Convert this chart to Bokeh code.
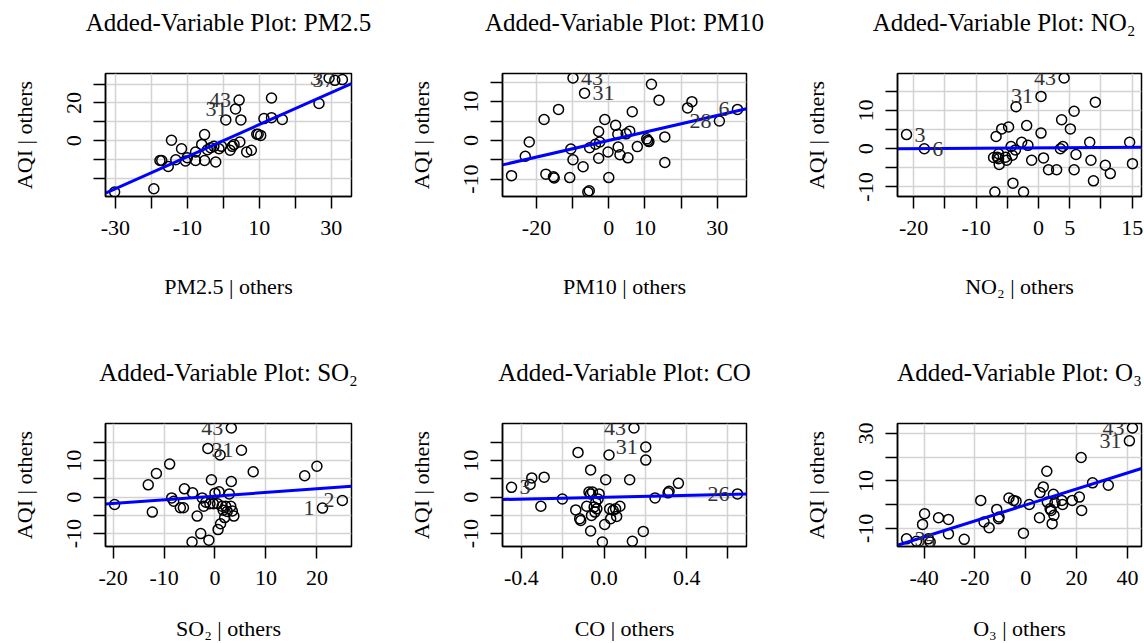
import numpy as np
from bokeh.plotting import figure
from bokeh.layouts import row, column
from bokeh.models import FixedTicker, ColumnDataSource, Range1d, Title
from bokeh.embed import file_html
from bokeh.resources import INLINE
from bokeh.core.properties import value

FONT = "Liberation Serif"

# ---------------- data ----------------
pm25_x = [-30.2, -19.3, -17.6, -17.1, -15.3, -14.4, -13.2, -11.6, -10.5, -10.0, -7.7, -7.7,
          -5.2, -6.0, -5.2, -4.4, -3.5, -2.1, -2.6, -1.2, -0.5, 0.7, 1.9, 2.5, 3.0, 3.4, 4.4,
          4.6, 4.9, 6.5, 7.8, 9.3, 9.7, 10.4, 11.3, 13.4, 13.4, 16.4, 26.6, 29.4, 31.0, 33.1]
pm25_y = [-27.2, -25.5, -10.5, -10.5, -13.7, 0.2, -10.1, -4.3, -10.8, -9.0, -6.0, -10.5,
          3.2, -2.0, -10.5, -4.8, -3.7, -11.3, -3.0, -4.3, -3.0, 11.0, -5.1, -3.0, -2.1, 16.8, 21.5,
          -0.7, 11.0, -6.0, -5.1, 3.4, 3.4, 2.8, 11.7, 22.6, 12.2, 11.2, 19.7, 33.2, 32.0, 32.4]
pm25_ids = [25, 26, 39, 41]
pm25_idtxt = ["31", "43", "3", "37"]

pm10_x = [-26.9, -23.1, -22.0, -17.9, -17.4, -15.3, -15.1, -13.9, -10.8, -10.5, -9.9, -9.9,
          -7.1, -6.7, -5.8, -5.4, -5.3, -3.7, -2.8, -2.8, -2.5, -1.1, -0.2, 0.0, 1.9, 2.6, 2.5,
          3.1, 4.8, 5.3, 5.8, 6.5, 7.9, 10.5, 10.8, 11.1, 11.8, 13.9, 15.5, 15.5, 21.8, 23.0,
          30.6, 35.6]
pm10_y = [-9.1, -4.1, -0.4, 5.4, -8.7, -9.4, -9.7, 8.0, -9.6, -2.2, -5.0, 16.1,
          -6.8, 12.2, -13.3, -13.0, -1.9, -1.0, 2.3, -4.6, -0.4, 5.4, -3.0, -9.6, 3.9, -1.7, 1.6,
          -3.7, 1.7, -4.5, 2.4, 7.4, -1.6, 0.4, 0.0, -0.3, 14.5, 10.4, 0.9, -5.7, 8.4, 10.0,
          5.0, 8.0]
pm10_ids = [11, 13, 42, 43]
pm10_idtxt = ["43", "31", "28", "6"]

no2_x = [-21.15, -18.3, -7.0, -6.8, -7.2, -6.6, -6.4, -6.3, -6.4, -5.9, -5.3, -5.1, -4.8, -4.4,
         -4.2, -4.1, -3.7, -3.6, -2.7, -2.4, -1.9, -1.7, -1.1, 0.4, 0.4, 0.8, 1.6, 2.9, 3.5, 3.7,
         3.9, 4.1, 5.1, 5.7, 5.7, 6.0, 8.2, 8.4, 8.8, 9.1, 10.7, 11.5, 14.6, 15.05]
no2_y = [3.7, 0.0, -11.3, 3.2, -2.3, -2.2, -1.3, -4.1, -2.6, 5.2, -2.2, -3.0, 5.7, 0.6,
         -1.7, -9.0, -0.3, 11.0, 1.7, -11.3, 6.1, 0.9, -3.0, 4.1, 13.7, -2.4, -5.5, -5.5, 0.0, 7.6,
         0.6, 18.5, 5.2, 9.8, -5.5, -1.5, 1.7, -3.0, -8.4, 12.2, -4.3, -6.5, 1.7, -3.9]
no2_ids = [0, 1, 24, 31]
no2_idtxt = ["3", "6", "31", "43"]

so2_x = [-19.7, -13.1, -12.3, -11.5, -8.9, -8.5, -8.1, -6.8, -6.2, -6.0, -4.4, -4.5, -3.5, -2.8,
         -2.5, -2.2, -1.8, -1.4, -1.2, -1.0, -0.7, -0.3, 0.0, 0.5, 0.6, 0.8, 1.0, 1.1, 1.4, 1.6,
         1.9, 2.1, 2.4, 2.8, 3.1, 3.2, 3.2, 3.4, 3.7, 5.2, 7.5, 17.6, 20.0, 21.1, 25.0]
so2_y = [-2.0, 3.4, -4.1, 6.5, 9.1, -0.2, -1.1, -2.9, -2.9, 2.3, 1.2, -12.3, -5.2, -10.0,
         -0.2, -2.5, -1.4, 13.4, -11.8, -1.8, 4.8, -1.8, 1.1, -1.8, -8.9, 1.5, 11.6, -7.3, -2.5, -3.6,
         -5.6, -2.5, -3.9, 0.9, -2.5, 4.3, 19.0, -3.8, -5.2, 12.9, 7.0, 5.9, 8.5, -3.0, -0.9]
so2_ids = [36, 39, 43, 44]
so2_idtxt = ["43", "31", "1", "2"]

co_x = [-0.448, -0.358, -0.350, -0.306, -0.290, -0.202, -0.137, -0.126, -0.118, -0.113, -0.084,
        -0.073, -0.065, -0.056, -0.065, -0.065, -0.061, -0.048, -0.044, -0.040, -0.035, -0.029,
        -0.024, -0.008, 0.003, 0.008, 0.024, 0.027, 0.032, 0.044, 0.056, 0.061, 0.077, 0.124,
        0.137, 0.145, 0.190, 0.202, 0.202, 0.247, 0.310, 0.315, 0.360, 0.646]
co_y = [2.7, 3.5, 5.3, -2.5, 5.5, -0.5, -3.5, 12.3, -5.9, -6.4, -2.5,
        1.4, 0.9, 1.4, 7.5, -9.3, -5.0, -2.7, -4.1, -1.4, -3.2, -0.5,
        0.9, -12.3, -7.5, 4.8, 11.6, -3.2, -5.9, -3.6, -3.2, -5.3, -2.5, 4.8,
        -12.1, 19.0, -9.4, 13.8, 10.2, -0.2, 1.2, 1.6, 3.8, 0.9]
co_ids = [0, 35, 37, 43]
co_idtxt = ["3", "43", "31", "26"]

o3_x = [-46.9, -43.0, -40.6, -39.8, -38.3, -37.6, -34.3, -30.4, -30.4, -24.2, -17.7, -16.4,
        -14.4, -11.4, -10.7, -10.5, -6.6, -4.8, -3.8, -0.9, 1.4, 5.4, 5.6, 6.9, 8.3, 8.5, 9.6,
        10.0, 10.4, 10.9, 11.1, 11.5, 14.2, 14.5, 18.3, 21.1, 21.8, 22.0, 26.3, 32.5, 40.8, 42.0]
o3_y = [-14.4, -15.4, -8.3, -3.8, -14.4, -15.7, -5.5, -6.2, -12.3, -14.6, 1.8, -7.3,
        -9.7, -2.0, -5.9, -5.2, 2.8, 1.8, 1.4, -12.0, 0.1, -5.5, 5.1, 7.5, 14.1, 1.1, -1.7,
        -2.4, -8.0, 4.4, -4.5, 0.8, 1.8, 0.1, 1.8, 3.2, 19.9, -2.4, 9.2, 8.2, 26.9, 32.3]
o3_ids = [0, 1, 40, 41]
o3_idtxt = ["3", "5", "31", "43"]

# fitted added-variable intercepts / slopes
pm25_fit = (0.0, 0.85)
pm10_fit = (0.0, 0.215)
no2_fit = (0.25, 0.01)
so2_fit = (0.3, 0.10)
co_fit = (0.0, 1.31)
o3_fit = (-0.1, 0.337)

# ticks and tick labels
pm25_xt = [-30, -20, -10, 0, 10, 20, 30]; pm25_xtl = ["-30", "", "-10", "", "10", "", "30"]
pm25_yt = [-30, -20, -10, 0, 10, 20, 30]; pm25_ytl = ["-30", "", "", "0", "", "20", ""]
pm10_xt = [-20, -10, 0, 10, 20, 30]; pm10_xtl = ["-20", "", "0", "10", "", "30"]
pm10_yt = [-10, -5, 0, 5, 10, 15]; pm10_ytl = ["-10", "", "0", "", "10", ""]
no2_xt = [-20, -15, -10, -5, 0, 5, 10, 15]; no2_xtl = ["-20", "", "-10", "", "0", "5", "", "15"]
no2_yt = [-10, -5, 0, 5, 10, 15]; no2_ytl = ["-10", "", "0", "", "10", ""]
so2_xt = [-20, -10, 0, 10, 20]; so2_xtl = ["-20", "-10", "0", "10", "20"]
so2_yt = [-10, -5, 0, 5, 10, 15]; so2_ytl = ["-10", "", "0", "", "10", ""]
co_xt = [-0.4, -0.2, 0.0, 0.2, 0.4, 0.6]; co_xtl = ["-0.4", "", "0.0", "", "0.4", ""]
co_yt = [-10, -5, 0, 5, 10, 15]; co_ytl = ["-10", "", "0", "", "10", ""]
o3_xt = [-40, -20, 0, 20, 40]; o3_xtl = ["-40", "-20", "0", "20", "40"]
o3_yt = [-10, 0, 10, 20, 30]; o3_ytl = ["-10", "", "10", "", "30"]

names = ["PM2.5", "PM10", "NO\u2082", "SO\u2082", "CO", "O\u2083"]

FRAME_H = 123


def rng(v):
    lo, hi = min(v), max(v)
    r = hi - lo
    return lo - 0.04 * r, hi + 0.04 * r


def panel(name, xs, ys, fit, xt, xtl, yt, ytl, ids, idtxt,
          width, left, right, height, top, xstand, title_align):
    x0, x1 = rng(xs)
    y0, y1 = rng(ys)
    bottom = height - top - FRAME_H
    p = figure(width=width, height=height, x_range=Range1d(x0, x1), y_range=Range1d(y0, y1),
               output_backend="svg", toolbar_location=None, title=None,
               min_border_left=left, min_border_right=right,
               min_border_top=top, min_border_bottom=bottom)
    p.background_fill_color = "white"
    p.border_fill_color = "white"
    p.outline_line_color = "black"
    p.outline_line_width = 1.5
    p.outline_line_alpha = 1.0

    # spacer (inner) then the visible title (outer)
    p.add_layout(Title(text=" ", text_font_size="12px", standoff=22), "above")
    p.add_layout(Title(text="Added-Variable Plot: " + name, align=title_align,
                       offset=6 if title_align == "right" else 0,
                       text_font=FONT, text_font_size="25px", text_font_style="normal",
                       text_color="black", standoff=0), "above")

    xtick = FixedTicker(ticks=xt)
    ytick = FixedTicker(ticks=yt)
    p.xaxis.ticker = xtick
    p.yaxis.ticker = ytick
    p.xgrid.ticker = xtick
    p.ygrid.ticker = ytick
    p.xaxis.major_label_overrides = {t: s for t, s in zip(xt, xtl)}
    p.yaxis.major_label_overrides = {t: s for t, s in zip(yt, ytl)}
    for ax in (p.xaxis[0], p.yaxis[0]):
        ax.minor_tick_line_color = None
        ax.major_tick_in = 0
        ax.major_tick_out = 12
        ax.major_tick_line_width = 1.5
        ax.major_tick_line_color = "black"
        ax.axis_line_width = 1.5
        ax.axis_line_color = "black"
        ax.major_label_text_font = FONT
        ax.major_label_text_font_size = "22px"
        ax.major_label_text_color = "black"
        ax.major_label_standoff = 12
        ax.axis_label_text_font = FONT
        ax.axis_label_text_font_size = "22px"
        ax.axis_label_text_font_style = "normal"
        ax.axis_label_text_color = "black"
    p.yaxis.major_label_orientation = "parallel"
    p.xaxis.axis_label = name + " | others"
    p.yaxis.axis_label = "AQI | others"
    p.xaxis.axis_label_standoff = xstand
    p.yaxis.axis_label_standoff = 28
    for g in (p.xgrid[0], p.ygrid[0]):
        g.grid_line_color = "#d3d3d3"
        g.grid_line_width = 1.5

    p.scatter(xs, ys, marker="circle", size=10, fill_color=None,
              line_color="black", line_width=1.5)

    b0, b1 = fit
    p.line([x0, x1], [b0 + b1 * x0, b0 + b1 * x1], line_color="#0000ff", line_width=3)

    for side in ("left", "right"):
        sel = [(xs[i], ys[i], t) for i, t in zip(ids, idtxt)
               if (xs[i] > 0) == (side == "left")]
        if not sel:
            continue
        src = ColumnDataSource(dict(x=[s[0] for s in sel], y=[s[1] for s in sel],
                                    t=[s[2] for s in sel]))
        p.text(x="x", y="y", text="t", source=src,
               text_align="right" if side == "left" else "left",
               x_offset=-8 if side == "left" else 8,
               text_baseline="middle", text_font=value(FONT),
               text_font_size="22px", text_color="#333333")
    return p


TOP_H, BOT_H = 350, 293
cols = [(395, 105, 44), (395, 107, 44), (354, 107, 3)]
aligns = ["center", "center", "right"]

p1 = panel(names[0], pm25_x, pm25_y, pm25_fit, pm25_xt, pm25_xtl, pm25_yt, pm25_ytl,
           pm25_ids, pm25_idtxt, *cols[0], TOP_H, 73, 36, aligns[0])
p2 = panel(names[1], pm10_x, pm10_y, pm10_fit, pm10_xt, pm10_xtl, pm10_yt, pm10_ytl,
           pm10_ids, pm10_idtxt, *cols[1], TOP_H, 73, 36, aligns[1])
p3 = panel(names[2], no2_x, no2_y, no2_fit, no2_xt, no2_xtl, no2_yt, no2_ytl,
           no2_ids, no2_idtxt, *cols[2], TOP_H, 73, 36, aligns[2])
p4 = panel(names[3], so2_x, so2_y, so2_fit, so2_xt, so2_xtl, so2_yt, so2_ytl,
           so2_ids, so2_idtxt, *cols[0], BOT_H, 73, 28, aligns[0])
p5 = panel(names[4], co_x, co_y, co_fit, co_xt, co_xtl, co_yt, co_ytl,
           co_ids, co_idtxt, *cols[1], BOT_H, 73, 28, aligns[1])
p6 = panel(names[5], o3_x, o3_y, o3_fit, o3_xt, o3_xtl, o3_yt, o3_ytl,
           o3_ids, o3_idtxt, *cols[2], BOT_H, 73, 28, "center")

layout = column(row(p1, p2, p3), row(p4, p5, p6))
open("out.html", "w").write(file_html(layout, INLINE))
